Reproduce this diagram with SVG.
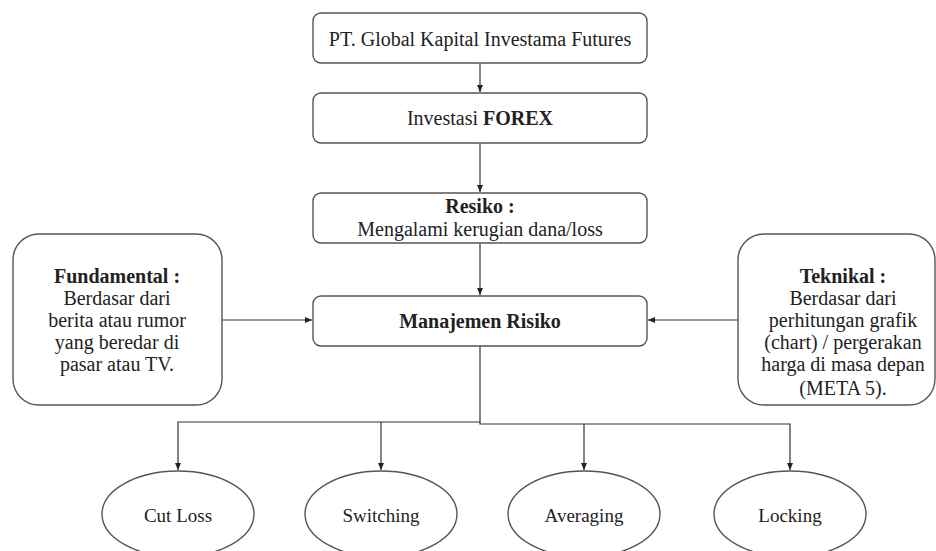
<svg xmlns="http://www.w3.org/2000/svg" width="936" height="551" viewBox="0 0 936 551">
<defs>
<marker id="arr" markerWidth="8" markerHeight="8" refX="7" refY="4" orient="auto" markerUnits="userSpaceOnUse">
<path d="M0,1 L7,4 L0,7 Z" fill="#222"/>
</marker>
<style>
.box{fill:#fff;stroke:#555;stroke-width:1.4}
.t{font-family:'Liberation Serif','DejaVu Serif',serif;font-size:20px;fill:#222;text-anchor:middle}
.b{font-weight:bold}
.e{font-size:19px}
.c{fill:none;stroke:#333;stroke-width:1.2}
</style>
</defs>
<rect width="936" height="551" fill="#fff"/>
<g id="connectors">
<path class="c" d="M480,63 V92" marker-end="url(#arr)"/>
<path class="c" d="M480,143 V192" marker-end="url(#arr)"/>
<path class="c" d="M480,243 V295" marker-end="url(#arr)"/>
<path class="c" d="M222,320 H312" marker-end="url(#arr)"/>
<path class="c" d="M738,320 H648" marker-end="url(#arr)"/>
<path class="c" d="M480,346 V422 H178 V470" marker-end="url(#arr)"/>
<path class="c" d="M381,422 V470" marker-end="url(#arr)"/>
<path class="c" d="M480,422 V424 H790 V470" marker-end="url(#arr)"/>
<path class="c" d="M584,424 V470" marker-end="url(#arr)"/>
</g>
<g id="pt">
<rect class="box" x="313" y="13" width="334" height="50" rx="8"/>
<text class="t" x="480" y="46">PT. Global Kapital Investama Futures</text>
</g>
<g id="forex">
<rect class="box" x="313" y="93" width="334" height="50" rx="8"/>
<text class="t" x="480" y="125">Investasi <tspan class="b">FOREX</tspan></text>
</g>
<g id="resiko">
<rect class="box" x="313" y="193" width="334" height="50" rx="8"/>
<text class="t b" x="480" y="213">Resiko :</text>
<text class="t" x="480" y="236">Mengalami kerugian dana/loss</text>
</g>
<g id="manajemen">
<rect class="box" x="313" y="296" width="334" height="50" rx="8"/>
<text class="t b" x="480" y="328">Manajemen Risiko</text>
</g>
<g id="fundamental">
<rect class="box" x="13" y="234" width="209" height="171" rx="26"/>
<text class="t b" x="117" y="283">Fundamental :</text>
<text class="t" x="117" y="305">Berdasar dari</text>
<text class="t" x="117" y="327">berita atau rumor</text>
<text class="t" x="117" y="349">yang beredar di</text>
<text class="t" x="117" y="371">pasar atau TV.</text>
</g>
<g id="teknikal">
<rect class="box" x="738" y="234" width="197" height="171" rx="26"/>
<text class="t b" x="843" y="283">Teknikal :</text>
<text class="t" x="843" y="305">Berdasar dari</text>
<text class="t" x="843" y="327">perhitungan grafik</text>
<text class="t" x="843" y="349">(chart) / pergerakan</text>
<text class="t" x="843" y="371">harga di masa depan</text>
<text class="t" x="843" y="395">(META 5).</text>
</g>
<g id="cutloss">
<ellipse class="box" cx="178" cy="514" rx="76" ry="43"/>
<text class="t e" x="178" y="522">Cut Loss</text>
</g>
<g id="switching">
<ellipse class="box" cx="381" cy="514" rx="76" ry="43"/>
<text class="t e" x="381" y="522">Switching</text>
</g>
<g id="averaging">
<ellipse class="box" cx="584" cy="514" rx="76" ry="43"/>
<text class="t e" x="584" y="522">Averaging</text>
</g>
<g id="locking">
<ellipse class="box" cx="790" cy="514" rx="76" ry="43"/>
<text class="t e" x="790" y="522">Locking</text>
</g>
</svg>
